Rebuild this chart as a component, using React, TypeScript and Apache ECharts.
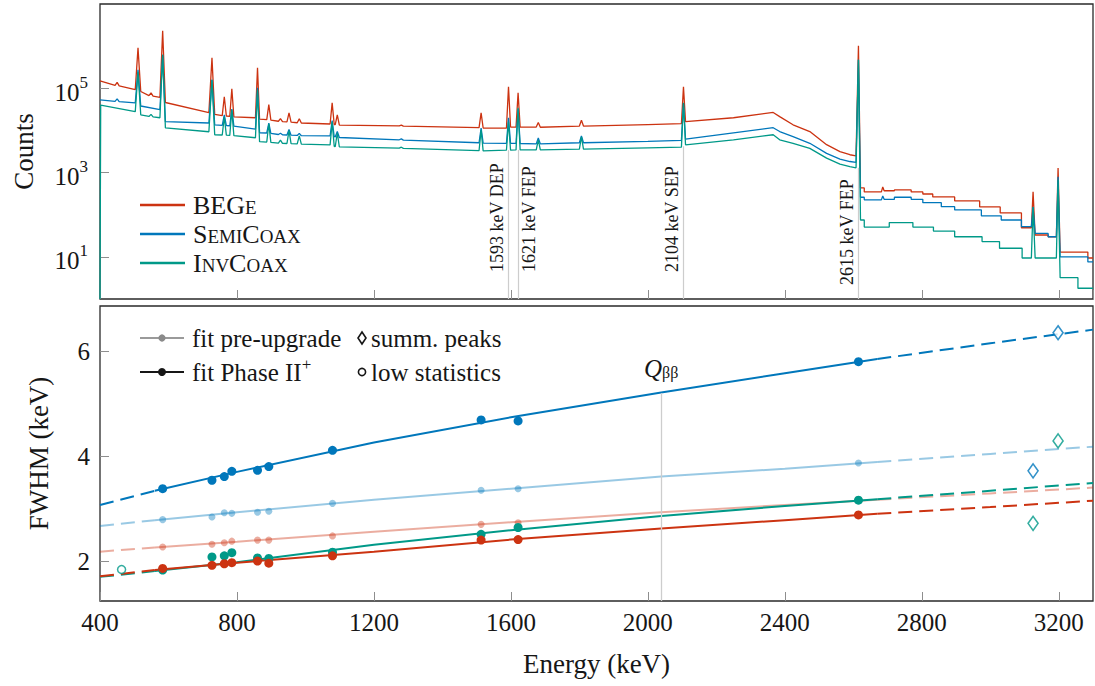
import React, { useEffect, useRef } from 'react';
import * as echarts from 'echarts';

const FONT = 'Liberation Serif';
const INK = '#161616';
const RED = '#CC3311';
const BLUE = '#0077BB';
const TEAL = '#009988';
const LINE_GRAY = '#cdcdcd';
const TICK_GRAY = '#8e8e8e';

// ---------- axes ----------
const energyMin = 400;
const energyMax = 3300;
const energyStep = 400;
const countMin = 1;
const countMax = 1e7;
const countTickExponents = [1, 3, 5];
const fwhmMin = 1.24;
const fwhmMax = 6.86;
const fwhmTicks = [2, 4, 6];

// ---------- top panel: spectra [energy keV, counts] ----------
const begeSpectrum = [
  [400, 1.5e5], [444, 1.17e5], [450, 1.38e5], [456, 1.14e5],
  [503, 9.3e4], [511, 9.2e5], [519, 8.4e4],
  [543, 6.7e4], [549, 7.8e4], [555, 6.5e4],
  [575, 6.1e4], [583, 2.3e6], [591, 4.6e4],
  [718, 2.65e4], [727, 5.3e5], [735, 2.4e4],
  [757, 2.25e4], [763, 6.3e4], [769, 2.2e4],
  [779, 2.15e4], [785, 9.7e4], [791, 2.1e4],
  [854, 2.0e4], [860, 3.07e5], [866, 1.85e4],
  [887, 1.8e4], [893, 4.1e4], [899, 1.75e4],
  [921, 1.65e4], [927, 1.9e4], [933, 1.62e4],
  [946, 1.6e4], [952, 2.6e4], [958, 1.57e4],
  [976, 1.52e4], [982, 1.9e4], [988, 1.5e4],
  [1072, 1.42e4], [1078, 4.5e4], [1084, 1.38e4],
  [1087, 1.37e4], [1093, 2.35e4], [1099, 1.34e4],
  [1274, 1.28e4], [1280, 1.34e4], [1286, 1.27e4],
  [1507, 1.16e4], [1513, 2.6e4], [1519, 1.14e4],
  [1587, 1.13e4], [1593, 1.09e5], [1599, 1.2e4],
  [1615, 1.2e4], [1621, 7.8e4], [1627, 1.2e4],
  [1674, 1.2e4], [1680, 1.55e4], [1686, 1.19e4],
  [1800, 1.27e4], [1806, 1.75e4], [1812, 1.27e4],
  [2000, 1.38e4],
  [2098, 1.45e4], [2104, 1.09e5], [2110, 1.62e4],
  [2250, 2.0e4], [2366, 2.67e4], [2385, 2.13e4], [2424, 1.36e4], [2473, 9.4e3],
  [2522, 4.6e3], [2561, 3.15e3], [2590, 2.65e3], [2608, 2.5e3],
  [2615, 1.02e6], [2621, 433], [2632, 433], [2632, 348], [2682, 348], [2686, 456],
  [2690, 370], [2720, 370], [2720, 388], [2769, 388], [2769, 348], [2803, 348],
  [2803, 310], [2832, 310], [2832, 265], [2896, 265], [2896, 212], [2969, 212],
  [2969, 153], [3029, 153], [3029, 110], [3091, 110], [3091, 49], [3120, 49],
  [3125, 348], [3131, 33], [3169, 33], [3169, 30], [3193, 30], [3198, 1290],
  [3204, 13], [3285, 13], [3285, 9.4], [3300, 9.4],
];

const semiSpectrum = [
  [400, 5.3e4], [444, 4.9e4], [450, 5.6e4], [456, 4.8e4],
  [503, 4.5e4], [511, 2.75e5], [519, 3.8e4],
  [575, 3.1e4], [583, 6.25e5], [591, 1.62e4],
  [718, 1.5e4], [727, 1.59e5], [735, 1.36e4],
  [757, 1.32e4], [763, 2.35e4], [769, 1.3e4],
  [779, 1.29e4], [785, 3.2e4], [791, 1.27e4],
  [854, 1.08e4], [860, 1.03e5], [866, 8.8e3],
  [887, 8.7e3], [893, 1.5e4], [899, 8.5e3],
  [921, 8.0e3], [927, 8.6e3], [933, 7.9e3],
  [946, 7.8e3], [952, 1.06e4], [958, 7.7e3],
  [976, 7.6e3], [982, 8.5e3], [988, 7.5e3],
  [1072, 7.4e3], [1078, 1.72e4], [1084, 7.1e3],
  [1087, 7.0e3], [1093, 9.4e3], [1099, 6.8e3],
  [1274, 6.0e3], [1280, 6.3e3], [1286, 5.9e3],
  [1507, 5.1e3], [1513, 1.13e4], [1519, 5.0e3],
  [1587, 4.95e3], [1593, 2.0e4], [1599, 4.95e3],
  [1615, 4.95e3], [1621, 3.2e4], [1627, 4.9e3],
  [1674, 4.8e3], [1680, 6.6e3], [1686, 4.8e3],
  [1800, 5.1e3], [1806, 7.4e3], [1812, 5.1e3],
  [2000, 5.5e3],
  [2098, 5.8e3], [2104, 4.4e4], [2110, 6.2e3],
  [2250, 8.7e3], [2366, 1.16e4], [2385, 9.4e3], [2424, 7.1e3], [2473, 4.95e3],
  [2522, 2.85e3], [2561, 2.08e3], [2590, 1.83e3], [2608, 1.75e3],
  [2615, 4.75e5], [2621, 260], [2632, 260], [2632, 225], [2682, 225], [2686, 279],
  [2690, 232], [2720, 232], [2720, 260], [2769, 260], [2769, 232], [2803, 232],
  [2803, 193], [2857, 193], [2857, 155], [2896, 155], [2896, 130], [2974, 130],
  [2974, 94], [3032, 94], [3032, 75], [3091, 75], [3091, 52], [3120, 52],
  [3125, 153], [3131, 36], [3169, 36], [3169, 30], [3193, 30], [3198, 791],
  [3204, 10], [3285, 10], [3285, 7.6], [3300, 7.6],
];

const invSpectrum = [
  [400, 1], [402, 4.0e4],
  [503, 2.8e4], [511, 2.47e5], [519, 2.35e4],
  [543, 2.15e4], [549, 2.4e4], [555, 2.1e4],
  [575, 2.0e4], [583, 6.25e5], [591, 1.15e4],
  [718, 9.3e3], [727, 1.59e5], [735, 7.9e3],
  [757, 7.8e3], [763, 2.1e4], [769, 7.7e3],
  [779, 7.6e3], [785, 3.08e4], [791, 7.5e3],
  [854, 6.7e3], [860, 9.2e4], [866, 5.4e3],
  [887, 5.3e3], [893, 1.44e4], [899, 5.2e3],
  [921, 5.0e3], [927, 5.9e3], [933, 4.95e3],
  [946, 4.9e3], [952, 9.9e3], [958, 4.85e3],
  [976, 4.8e3], [982, 7.4e3], [988, 4.75e3],
  [1072, 4.55e3], [1078, 1.6e4], [1084, 4.2e3],
  [1087, 4.1e3], [1093, 8.8e3], [1099, 4.05e3],
  [1274, 3.8e3], [1280, 4.0e3], [1286, 3.75e3],
  [1507, 3.3e3], [1513, 1.03e4], [1519, 3.28e3],
  [1587, 3.4e3], [1593, 1.6e4], [1599, 3.4e3],
  [1615, 3.45e3], [1621, 3.44e4], [1627, 3.45e3],
  [1674, 3.45e3], [1680, 6.0e3], [1686, 3.45e3],
  [1800, 3.6e3], [1806, 7.0e3], [1812, 3.6e3],
  [2000, 3.86e3],
  [2098, 4.0e3], [2104, 4.5e4], [2110, 4.55e3],
  [2250, 6.0e3], [2366, 7.9e3], [2385, 6.0e3], [2424, 4.95e3], [2473, 3.75e3],
  [2522, 2.2e3], [2561, 1.58e3], [2590, 1.39e3], [2608, 1.3e3],
  [2615, 4.75e5], [2621, 75], [2632, 75], [2632, 51], [2705, 51], [2705, 65],
  [2774, 65], [2774, 51], [2834, 51], [2834, 41], [2896, 41], [2896, 30],
  [2976, 30], [2976, 23], [3027, 23], [3027, 16], [3093, 16], [3093, 9.4],
  [3120, 9.4], [3125, 153], [3131, 9.4], [3193, 9.4], [3198, 671],
  [3204, 3.2], [3256, 3.2], [3256, 1.8], [3300, 1.8],
];

const peakEnergies = [1593, 1621, 2104, 2615];
const peakLabels = ['1593 keV DEP', '1621 keV FEP', '2104 keV SEP', '2615 keV FEP'];
const peakLineTops = [3.4e3, 3.45e3, 4.2e3, 1.3e3];

// ---------- bottom panel: FWHM [keV] ----------
const calibEnergies = [583, 727, 763, 785, 860, 893, 1079, 1513, 1621, 2615];
const begeFwhmPre = [2.27, 2.32, 2.35, 2.38, 2.40, 2.40, 2.48, 2.70, 2.73, 3.17];
const semiFwhmPre = [2.79, 2.84, 2.92, 2.91, 2.93, 2.95, 3.10, 3.35, 3.38, 3.87];
const begeFwhmNew = [1.86, 1.92, 1.95, 1.97, 2.00, 1.96, 2.10, 2.40, 2.41, 2.88];
const semiFwhmNew = [3.38, 3.54, 3.61, 3.71, 3.73, 3.80, 4.11, 4.69, 4.67, 5.80];
const invFwhmNew = [1.83, 2.08, 2.10, 2.16, 2.06, 2.05, 2.17, 2.51, 2.64, 3.16];

const fitEnergies = [400, 560, 800, 1200, 1600, 2039, 2400, 2670, 3000, 3300];
const semiFitNew = [3.07, 3.34, 3.70, 4.26, 4.74, 5.21, 5.58, 5.85, 6.15, 6.41];
const semiFitPre = [2.67, 2.78, 2.93, 3.17, 3.38, 3.61, 3.76, 3.89, 4.04, 4.18];
const begeFitPre = [2.18, 2.26, 2.37, 2.56, 2.74, 2.93, 3.07, 3.17, 3.29, 3.40];
const invFitNew = [1.70, 1.81, 1.98, 2.31, 2.59, 2.86, 3.05, 3.18, 3.34, 3.49];
const begeFitNew = [1.71, 1.83, 1.97, 2.18, 2.41, 2.62, 2.78, 2.90, 3.03, 3.15];

const sumPeakEnergies = [3125, 3198];
const semiSumFwhm = [3.72, 6.35];
const invSumFwhm = [2.72, 4.29];
const lowStatEnergies = [463];
const invLowStatFwhm = [1.84];

const qbbEnergy = 2039;
const qbbLineTop = 5.2;

// ---------- helpers ----------
const zip = (xs: number[], ys: number[]) => xs.map((x, i) => [x, ys[i]]);

function fitSeries(values: number[], color: string, opacity: number) {
  const pts = zip(fitEnergies, values);
  const base = {
    type: 'line', xAxisIndex: 1, yAxisIndex: 2, symbol: 'none', silent: true,
  };
  return [
    { ...base, data: pts.slice(1, 8), lineStyle: { color, width: 2, opacity } },
    { ...base, data: pts.slice(0, 2), lineStyle: { color, width: 2, opacity, type: [14, 7] } },
    { ...base, data: pts.slice(7), lineStyle: { color, width: 2, opacity, type: [14, 7] } },
  ];
}

function dotSeries(values: number[], color: string, opacity: number, size: number) {
  return {
    type: 'scatter', xAxisIndex: 1, yAxisIndex: 2, silent: true, z: 4,
    data: zip(calibEnergies, values), symbol: 'circle', symbolSize: size,
    itemStyle: { color, opacity },
  };
}

function spectrumSeries(name: string, data: number[][], color: string, extra: any = {}) {
  return {
    name, type: 'line', xAxisIndex: 0, yAxisIndex: 1, data, symbol: 'none',
    silent: true, lineStyle: { color, width: 1.3 }, ...extra,
  };
}

const peakMarkLine = {
  silent: true,
  symbol: 'none',
  lineStyle: { color: LINE_GRAY, width: 1.2, type: 'solid' },
  data: peakEnergies.map((e, i) => [
    {
      coord: [e, countMin],
      label: {
        show: true,
        formatter: peakLabels[i],
        position: i === 1 ? 'insideStartBottom' : 'insideStartTop',
        distance: [i === 3 ? 14 : 27, 2],
        fontFamily: FONT, fontSize: 18, color: INK,
      },
    },
    { coord: [e, peakLineTops[i]] },
  ]),
};

const qbbMarkLine = {
  silent: true,
  symbol: 'none',
  lineStyle: { color: LINE_GRAY, width: 1.3, type: 'solid' },
  label: {
    show: true,
    position: 'end',
    distance: [0, 12],
    formatter: '{q|Q}{s|ββ}',
    rich: {
      q: { fontFamily: FONT, fontSize: 25, fontStyle: 'italic', color: INK },
      s: { fontFamily: FONT, fontSize: 16, color: INK, padding: [8, 0, 0, 0] },
    },
  },
  data: [[{ coord: [qbbEnergy, fwhmMin] }, { coord: [qbbEnergy, qbbLineTop] }]],
};

// legends
const detectorLegend = [
  { text: '{n|BEG}{s|E}', color: RED },
  { text: '{n|S}{s|EMI}{n|C}{s|OAX}', color: BLUE },
  { text: '{n|I}{s|NV}{n|C}{s|OAX}', color: TEAL },
];
const legendRichTop = {
  n: { fontFamily: FONT, fontSize: 26, fill: INK },
  s: { fontFamily: FONT, fontSize: 19, fill: INK, padding: [4, 0, 0, 0] },
};

function buildGraphic() {
  const g: any[] = [];
  detectorLegend.forEach((d, i) => {
    const y = 205 + i * 29;
    g.push({ type: 'line', silent: true, shape: { x1: 140, y1: y, x2: 185, y2: y }, style: { stroke: d.color, lineWidth: 2.5 } });
    g.push({
      type: 'text', silent: true, x: 193, y,
      style: { text: d.text, rich: legendRichTop, fill: INK, fontFamily: FONT, fontSize: 26, align: 'left', verticalAlign: 'middle' },
    });
  });
  const textStyle = { fontFamily: FONT, fontSize: 25, fill: INK };
  const rows = [338, 372];
  // fit pre-upgrade
  g.push({ type: 'line', silent: true, shape: { x1: 140, y1: rows[0], x2: 184, y2: rows[0] }, style: { stroke: '#9a9a9a', lineWidth: 2 } });
  g.push({ type: 'circle', silent: true, shape: { cx: 162, cy: rows[0], r: 3.6 }, style: { fill: '#8a8a8a' } });
  g.push({ type: 'text', silent: true, x: 192, y: rows[0], style: { ...textStyle, text: 'fit pre-upgrade', align: 'left', verticalAlign: 'middle' } });
  // fit Phase II+
  g.push({ type: 'line', silent: true, shape: { x1: 140, y1: rows[1], x2: 184, y2: rows[1] }, style: { stroke: INK, lineWidth: 2 } });
  g.push({ type: 'circle', silent: true, shape: { cx: 162, cy: rows[1], r: 4 }, style: { fill: INK } });
  g.push({
    type: 'text', silent: true, x: 192, y: rows[1],
    style: {
      text: '{t|fit Phase II}{p|+}', align: 'left', verticalAlign: 'middle', fill: INK, fontFamily: FONT, fontSize: 25,
      rich: { t: { ...textStyle }, p: { fontFamily: FONT, fontSize: 17, fill: INK, padding: [0, 0, 16, 0] } },
    },
  });
  // summ. peaks
  g.push({ type: 'polygon', silent: true, shape: { points: [[362, rows[0] - 6], [366, rows[0]], [362, rows[0] + 6], [358, rows[0]]] }, style: { fill: '#fff', stroke: INK, lineWidth: 1.6 } });
  g.push({ type: 'text', silent: true, x: 371, y: rows[0], style: { ...textStyle, text: 'summ. peaks', align: 'left', verticalAlign: 'middle' } });
  // low statistics
  g.push({ type: 'circle', silent: true, shape: { cx: 362, cy: rows[1], r: 3.6 }, style: { fill: '#fff', stroke: INK, lineWidth: 1.6 } });
  g.push({ type: 'text', silent: true, x: 371, y: rows[1], style: { ...textStyle, text: 'low statistics', align: 'left', verticalAlign: 'middle' } });
  return g;
}

const tickStyle = { inside: true, length: 9, lineStyle: { color: TICK_GRAY, width: 1 } };

const option: any = {
  animation: false,
  backgroundColor: '#ffffff',
  textStyle: { fontFamily: FONT, color: INK },
  grid: [
    { left: 100, top: 4, width: 993, height: 295, show: true, borderColor: '#2a2a2a', borderWidth: 1.3, backgroundColor: 'transparent' },
    { left: 100, top: 306, width: 993, height: 295, show: true, borderColor: '#2a2a2a', borderWidth: 1.3, backgroundColor: 'transparent' },
  ],
  xAxis: [
    {
      gridIndex: 0, type: 'value', min: energyMin, max: energyMax, interval: energyStep,
      axisLine: { show: false }, axisLabel: { show: false }, splitLine: { show: false },
      axisTick: tickStyle,
    },
    {
      gridIndex: 1, type: 'value', min: energyMin, max: energyMax, interval: energyStep,
      axisLine: { show: false }, splitLine: { show: false }, axisTick: tickStyle,
      axisLabel: {
        fontFamily: FONT, fontSize: 25, color: INK, margin: 9, showMaxLabel: false,
        formatter: (v: number) => String(v),
      },
      name: 'Energy (keV)', nameLocation: 'middle', nameGap: 49,
      nameTextStyle: { fontFamily: FONT, fontSize: 27, color: INK },
    },
  ],
  yAxis: [
    {
      gridIndex: 0, type: 'value', min: 0, max: 7,
      axisLine: { show: false }, splitLine: { show: false },
      axisTick: { ...tickStyle, customValues: countTickExponents },
      axisLabel: {
        customValues: countTickExponents,
        formatter: (v: number) => `{b|10}{s|${v}}`,
        margin: 12,
        fontFamily: FONT,
        rich: {
          b: { fontFamily: FONT, fontSize: 25, color: INK, padding: [8, 0, 0, 0] },
          s: { fontFamily: FONT, fontSize: 17, color: INK, padding: [0, 0, 12, 0] },
        },
      },
      name: 'Counts', nameLocation: 'middle', nameGap: 63,
      nameTextStyle: { fontFamily: FONT, fontSize: 27, color: INK },
    },
    { gridIndex: 0, type: 'log', logBase: 10, min: countMin, max: countMax, show: false },
    {
      gridIndex: 1, type: 'value', min: fwhmMin, max: fwhmMax,
      axisLine: { show: false }, splitLine: { show: false },
      axisTick: { ...tickStyle, customValues: fwhmTicks },
      axisLabel: {
        customValues: fwhmTicks, fontFamily: FONT, fontSize: 25, color: INK, margin: 10,
        formatter: (v: number) => String(v),
      },
      name: 'FWHM (keV)', nameLocation: 'middle', nameGap: 48,
      nameTextStyle: { fontFamily: FONT, fontSize: 27, color: INK },
    },
  ],
  series: [
    spectrumSeries('BEGe', begeSpectrum, RED, { markLine: peakMarkLine }),
    spectrumSeries('SemiCoax', semiSpectrum, BLUE),
    spectrumSeries('InvCoax', invSpectrum, TEAL),

    { ...fitSeries(semiFitPre, BLUE, 0.4)[0], markLine: qbbMarkLine },
    fitSeries(semiFitPre, BLUE, 0.4)[1],
    fitSeries(semiFitPre, BLUE, 0.4)[2],
    ...fitSeries(begeFitPre, RED, 0.4),
    ...fitSeries(semiFitNew, BLUE, 1),
    ...fitSeries(invFitNew, TEAL, 1),
    ...fitSeries(begeFitNew, RED, 1),

    dotSeries(semiFwhmPre, BLUE, 0.4, 7),
    dotSeries(begeFwhmPre, RED, 0.4, 7),
    dotSeries(semiFwhmNew, BLUE, 1, 9),
    dotSeries(invFwhmNew, TEAL, 1, 9),
    dotSeries(begeFwhmNew, RED, 1, 9),

    {
      type: 'scatter', xAxisIndex: 1, yAxisIndex: 2, silent: true, z: 5,
      data: zip(sumPeakEnergies, semiSumFwhm), symbol: 'diamond', symbolSize: [10, 14],
      itemStyle: { color: '#ffffff', borderColor: BLUE, borderWidth: 1.6 },
    },
    {
      type: 'scatter', xAxisIndex: 1, yAxisIndex: 2, silent: true, z: 5,
      data: zip(sumPeakEnergies, invSumFwhm), symbol: 'diamond', symbolSize: [10, 14],
      itemStyle: { color: '#ffffff', borderColor: TEAL, borderWidth: 1.6 },
    },
    {
      type: 'scatter', xAxisIndex: 1, yAxisIndex: 2, silent: true, z: 5,
      data: zip(lowStatEnergies, invLowStatFwhm), symbol: 'circle', symbolSize: 8,
      itemStyle: { color: '#ffffff', borderColor: TEAL, borderWidth: 1.5 },
    },
  ],
  graphic: buildGraphic(),
};

export default function App() {
  const ref = useRef<HTMLDivElement>(null);
  useEffect(() => {
    const chart = echarts.init(ref.current as HTMLDivElement, null, { renderer: 'svg' });
    chart.setOption(option);
    return () => chart.dispose();
  }, []);
  return (
    <div
      ref={ref}
      style={{ position: 'fixed', left: 0, top: 0, width: 1095, height: 686, background: '#ffffff' }}
    />
  );
}
